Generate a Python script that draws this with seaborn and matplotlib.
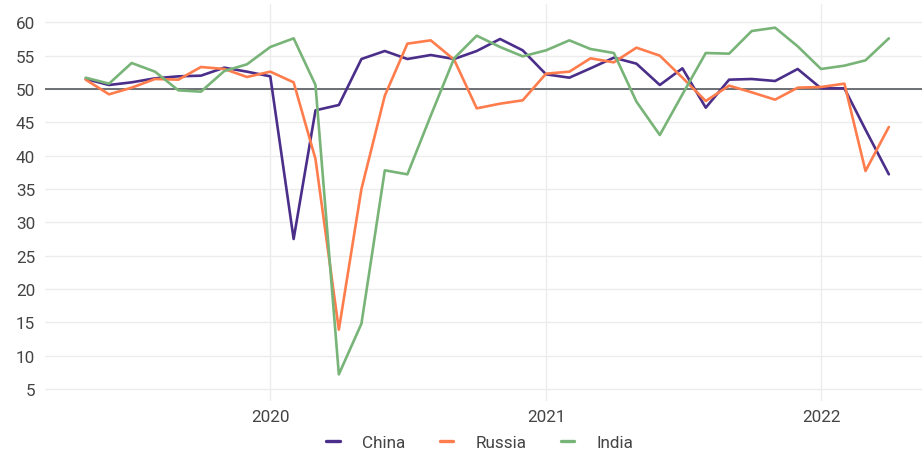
import datetime
import matplotlib
matplotlib.use('Agg')
import matplotlib.pyplot as plt
from matplotlib import dates as mdates
import pandas as pd
import seaborn as sns

# Monthly composite PMI, May 2019 - Apr 2022
months = pd.date_range('2019-05-01', '2022-04-01', freq='MS')

china = [51.5, 50.6, 51.0, 51.6, 51.9, 52.0, 53.2, 52.6, 51.9, 27.5, 46.8, 47.6,
         54.5, 55.7, 54.5, 55.1, 54.5, 55.7, 57.5, 55.8, 52.2, 51.7, 53.1, 54.7,
         53.8, 50.6, 53.1, 47.2, 51.4, 51.5, 51.2, 53.0, 50.1, 50.1, 43.9, 37.2]
russia = [51.4, 49.2, 50.2, 51.5, 51.4, 53.3, 53.0, 51.8, 52.6, 51.0, 39.5, 13.9,
          35.0, 49.0, 56.8, 57.3, 54.4, 47.1, 47.8, 48.3, 52.3, 52.6, 54.6, 54.0,
          56.2, 55.0, 51.7, 48.2, 50.5, 49.5, 48.4, 50.2, 50.3, 50.8, 37.7, 44.3]
india = [51.7, 50.8, 53.9, 52.6, 49.8, 49.6, 52.7, 53.7, 56.3, 57.6, 50.6, 7.2,
         14.8, 37.8, 37.2, 46.0, 54.6, 58.0, 56.3, 54.9, 55.8, 57.3, 56.0, 55.4,
         48.1, 43.1, 49.2, 55.4, 55.3, 58.7, 59.2, 56.4, 53.0, 53.5, 54.3, 57.6]

countries = ['China', 'Russia', 'India']
colors = ['#4b2e8a', '#ff7c4c', '#78b478']

df = pd.DataFrame({'date': list(months) * 3,
                   'value': china + russia + india,
                   'country': [c for c in countries for _ in months]})

sns.set_style('white')
plt.rcParams['font.family'] = ['Roboto', 'DejaVu Sans']

fig = plt.figure(figsize=(9.22, 4.52), dpi=100)
ax = fig.add_axes([45 / 922, 50 / 452, 877 / 922, 397 / 452])

sns.lineplot(data=df, x='date', y='value', hue='country', hue_order=countries,
             palette=colors, linewidth=1.9, ax=ax, legend=True)

ax.axhline(50, color='#555a60', linewidth=1.2, zorder=1)

ax.set_ylim(3.2, 62.75)
ax.set_xlim(datetime.date(2019, 3, 8), datetime.date(2022, 5, 15))
ax.set_yticks(range(5, 61, 5))
ax.xaxis.set_major_locator(mdates.YearLocator())
ax.xaxis.set_major_formatter(mdates.DateFormatter('%Y'))

ax.grid(True, color='#ececec', linewidth=1)
ax.set_axisbelow(True)
for s in ax.spines.values():
    s.set_visible(False)
ax.tick_params(axis='both', length=0, labelsize=12.3, colors='#444444')
ax.tick_params(axis='y', pad=7)
ax.tick_params(axis='x', pad=6)
ax.set_xlabel('')
ax.set_ylabel('')

handles, labels = ax.get_legend_handles_labels()
ax.legend(handles, labels, loc='center', bbox_to_anchor=(0.496, -0.105),
          ncol=3, frameon=False, fontsize=12.3, handlelength=0.8,
          handletextpad=1.3, columnspacing=2.0, labelcolor='#444444')
for h in ax.get_legend().get_lines():
    h.set_linewidth(2.4)

fig.savefig('out.png', dpi=100)
